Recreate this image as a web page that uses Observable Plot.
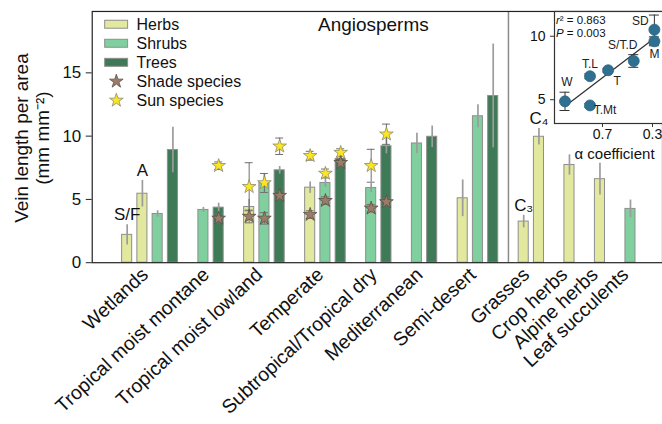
<!DOCTYPE html>
<html><head><meta charset="utf-8">
<script src="https://cdn.jsdelivr.net/npm/d3@7"></script>
<script src="https://cdn.jsdelivr.net/npm/@observablehq/plot@0.6"></script>
<style>
html,body{margin:0;padding:0;background:#fff;overflow:hidden;}
#wrap{position:relative;width:662px;height:424px;overflow:hidden;font-family:"Liberation Sans",Arial,sans-serif;}
#wrap svg{position:absolute;top:0;}
</style></head><body><div id="wrap"></div>
<script>
// ---------- data ----------
const categories = ["Wetlands","Tropical moist montane","Tropical moist lowland","Temperate","Subtropical/Tropical dry","Mediterranean","Semi-desert","Grasses","Crop herbs","Alpine herbs","Leaf succulents"];
const forms = ["Herbs","Shrubs","Trees"];

const barCategory = ["Wetlands","Wetlands","Wetlands","Wetlands","Tropical moist montane","Tropical moist montane","Tropical moist lowland","Tropical moist lowland","Tropical moist lowland","Temperate","Temperate","Temperate","Subtropical/Tropical dry","Subtropical/Tropical dry","Mediterranean","Mediterranean","Semi-desert","Semi-desert","Semi-desert","Grasses","Grasses","Crop herbs","Alpine herbs","Leaf succulents"];
const barForm = ["Herbs","Herbs","Shrubs","Trees","Shrubs","Trees","Herbs","Shrubs","Trees","Herbs","Shrubs","Trees","Shrubs","Trees","Shrubs","Trees","Herbs","Shrubs","Trees","Herbs","Herbs","Herbs","Herbs","Shrubs"];
const barNote = ["S/F","A","","","","","","","","","","","","","","","","","","C\u2083","C\u2084","","",""];
const barMean = [2.2,5.45,3.85,8.9,4.17,4.35,4.4,6.3,7.3,5.93,6.3,8.2,5.9,9.2,9.42,9.95,5.09,11.57,13.17,3.25,9.95,7.72,6.6,4.25];
const barErr  = [0.8,1.05,0.25,1.8,0.2,0.35,0.6,0.7,0.3,0.45,0.35,0.3,0.35,0.6,0.8,0.85,1.45,0.9,4.1,0.5,0.65,0.8,1.25,0.7];

const starCategory = ["Tropical moist montane","Tropical moist montane","Tropical moist lowland","Tropical moist lowland","Tropical moist lowland","Tropical moist lowland","Tropical moist lowland","Tropical moist lowland","Temperate","Temperate","Temperate","Temperate","Temperate","Temperate","Subtropical/Tropical dry","Subtropical/Tropical dry","Subtropical/Tropical dry","Subtropical/Tropical dry"];
const starForm = ["Trees","Trees","Herbs","Herbs","Shrubs","Shrubs","Trees","Trees","Herbs","Herbs","Shrubs","Shrubs","Trees","Trees","Shrubs","Shrubs","Trees","Trees"];
const starLight = ["Shade","Sun","Shade","Sun","Shade","Sun","Shade","Sun","Shade","Sun","Shade","Sun","Shade","Sun","Shade","Sun","Shade","Sun"];
const starMean = [3.5,7.66,3.65,6.0,3.5,6.3,5.3,9.2,3.8,8.45,4.9,7.05,7.9,8.7,4.3,7.66,4.8,10.15];
const starErr  = [0.35,0.3,0.5,1.9,0.45,0.75,0.3,0.65,0.3,0.35,0.3,0.35,0.3,0.3,0.3,1.3,0.3,0.8];

const siteLabel = ["W","T.Mt","T.L","T","S/T.D","SD","M"];
const siteAlpha = [1.0,0.8,0.8,0.655,0.45,0.285,0.285];
const siteVLA   = [4.87,4.55,6.85,7.32,8.05,10.52,9.6];
const siteErr   = [0.72,0.15,0.2,0.15,0.5,1.15,0.35];
const statR2 = "0.863", statP = "0.003";

const yTicks = [0,5,10,15];
const insetYTicks = [5,10];
const insetXTicks = [0.7,0.3];

// ---------- styles ----------
const formColor = {Herbs:"#e2e89d", Shrubs:"#80cf9f", Trees:"#3f7a57"};
const starFill = {Shade:"#9c7b68", Sun:"#fbe61f"};
const starStroke = {Shade:"#5a5048", Sun:"#8d8a6e"};
const FONT = "Liberation Sans, Arial, Helvetica, sans-serif";

// ---------- build tables ----------
const bars = barMean.map((m,i)=>({cat:barCategory[i], form:barForm[i], note:barNote[i], mean:m, err:barErr[i]}));
let s = 0;
categories.forEach((c,ci)=>{ if(ci>0) s++; bars.forEach(b=>{ if(b.cat===c){ b.slot=s; s++; } }); });
const catCenter = {};
categories.forEach(c=>{ const sl = bars.filter(b=>b.cat===c).map(b=>b.slot); catCenter[c] = d3.mean(sl); });
const dividerSlot = d3.min(bars.filter(b=>b.cat==="Grasses"), b=>b.slot) - 1;

const stars = starMean.map((m,i)=>{
  const b = bars.find(b=>b.cat===starCategory[i] && b.form===starForm[i]);
  return {slot:b.slot, light:starLight[i], mean:m, err:starErr[i]};
});
const sites = siteLabel.map((l,i)=>({label:l, alpha:siteAlpha[i], vla:siteVLA[i], err:siteErr[i]}));

const hw = 0.33, cap = 0.26;

// ---------- main chart ----------
const main = Plot.plot({
  width: 664, height: 424,
  marginLeft: 92, marginRight: 0, marginTop: 11, marginBottom: 161,
  x: {type:"linear", domain:[-2.29, 35.1], axis:null},
  y: {domain:[0, 19.85], axis:null},
  style: {fontFamily: FONT, background:"transparent", color:"#222"},
  marks: [
    Plot.ruleX([dividerSlot], {x: d=>d, stroke:"#8a8a8a", strokeWidth:1.5}),
    Plot.rect(bars, {x1: d=>d.slot-hw, x2: d=>d.slot+hw, y1: ()=>0, y2:"mean", fill: d=>formColor[d.form], stroke:"#8e8e8e", strokeWidth:1}),
    Plot.ruleX(bars, {x:"slot", y1: d=>d.mean-d.err, y2: d=>d.mean+d.err, stroke:"#9c9c9c", strokeWidth:1.7}),
    Plot.ruleX(stars, {x:"slot", y1: d=>d.mean-d.err, y2: d=>d.mean+d.err, stroke:"#6f6f6f", strokeWidth:1}),
    Plot.ruleY(stars, {y: d=>d.mean+d.err, x1: d=>d.slot-cap, x2: d=>d.slot+cap, stroke:"#6f6f6f", strokeWidth:1}),
    Plot.ruleY(stars, {y: d=>d.mean-d.err, x1: d=>d.slot-cap, x2: d=>d.slot+cap, stroke:"#6f6f6f", strokeWidth:1}),
    Plot.dot(stars.filter(d=>d.light==="Shade"), {x:"slot", y:"mean", symbol:"star", r:4.3, fill:starFill.Shade, stroke:starStroke.Shade, strokeWidth:0.8}),
    Plot.dot(stars.filter(d=>d.light==="Sun"), {x:"slot", y:"mean", symbol:"star", r:4.3, fill:starFill.Sun, stroke:starStroke.Sun, strokeWidth:0.8}),
    Plot.text(bars.filter(d=>d.note), {x:"slot", y: d=>d.mean+d.err, text:"note", dy:-10, fontSize:17, fill:"#111"}),
    Plot.text(categories, {x: c=>catCenter[c], y: ()=>0, text: c=>c, rotate:-43, textAnchor:"end", dx:-5, dy:9, fontSize:19.5, fill:"#111"}),
    Plot.text(["Angiosperms"], {frameAnchor:"top", dx:-4, dy:14, lineAnchor:"middle", fontSize:19, fill:"#111"}),
    Plot.text(["Vein length per area"], {frameAnchor:"left", textAnchor:"middle", rotate:-90, dx:-70, dy:1, fontSize:19, fill:"#111"}),
    Plot.text(["(mm mm\u207B\u00B2)"], {frameAnchor:"left", textAnchor:"middle", rotate:-90, dx:-49, dy:1, fontSize:19, fill:"#111"}),
    Plot.axisY({ticks: yTicks, tickSize:6, tickPadding:5, fontSize:17, label:null, stroke:"#222", color:"#111"}),
    Plot.frame({stroke:"#222", strokeWidth:1.2})
  ]
});
main.style.left = "0px";
document.getElementById("wrap").appendChild(main);

// legend (inside main svg)
const leg = d3.select(main).append("g").attr("font-family", FONT).attr("font-size", 16).attr("fill","#111").attr("text-anchor","start");
const legItems = [
  {kind:"rect", label:"Herbs", fill:formColor.Herbs},
  {kind:"rect", label:"Shrubs", fill:formColor.Shrubs},
  {kind:"rect", label:"Trees", fill:formColor.Trees},
  {kind:"star", label:"Shade species", fill:starFill.Shade, stroke:starStroke.Shade},
  {kind:"star", label:"Sun species", fill:starFill.Sun, stroke:starStroke.Sun}
];
legItems.forEach((it,i)=>{
  const cy = 24.3 + i*19.1;
  if(it.kind==="rect"){
    leg.append("rect").attr("x",105).attr("y",cy-4).attr("width",23).attr("height",8).attr("fill",it.fill).attr("stroke","#8e8e8e");
  } else {
    leg.append("path").attr("d", d3.symbol(d3.symbolStar, Math.PI*4.3*4.3)()).attr("transform",`translate(116.7,${cy})`).attr("fill",it.fill).attr("stroke",it.stroke).attr("stroke-width",0.8);
  }
  leg.append("text").attr("x",137).attr("y",cy).attr("dy","0.35em").attr("text-anchor","start").text(it.label);
});

// ---------- inset ----------
const labelOffset = {"W":[2,-19],"T.Mt":[15,5],"T.L":[0,-12],"T":[9,11],"S/T.D":[-11,-16],"SD":[-14,-8],"M":[0,13]};
const ic = 0.04;
const inset = Plot.plot({
  width: 154, height: 165,
  marginLeft: 44, marginRight: 0, marginTop: 11, marginBottom: 42,
  x: {domain:[0.204, 1.084], reverse:true, axis:null},
  y: {domain:[3.125, 11.95], axis:null},
  style: {fontFamily: FONT, background:"transparent", color:"#222"},
  marks: [
    Plot.frame({fill:"white", stroke:"#333", strokeWidth:1.2}),
    Plot.linearRegressionY(sites, {x:"alpha", y:"vla", stroke:"#333", strokeWidth:1.3, ci:0}),
    Plot.ruleX(sites, {x:"alpha", y1: d=>d.vla-d.err, y2: d=>d.vla+d.err, stroke:"#333", strokeWidth:1}),
    Plot.ruleY(sites, {y: d=>d.vla+d.err, x1: d=>d.alpha-ic, x2: d=>d.alpha+ic, stroke:"#333", strokeWidth:1}),
    Plot.ruleY(sites, {y: d=>d.vla-d.err, x1: d=>d.alpha-ic, x2: d=>d.alpha+ic, stroke:"#333", strokeWidth:1}),
    Plot.dot(sites, {x:"alpha", y:"vla", r:5.5, fill:"#2f6f90", stroke:"#2a6483", strokeWidth:0.8}),
    ...sites.map(d=>Plot.text([d], {x:"alpha", y:"vla", text:"label", dx:labelOffset[d.label][0], dy:labelOffset[d.label][1], fontSize:12, fill:"#222"})),
    Plot.text(["\u03B1 coefficient"], {frameAnchor:"bottom", dx:5, dy:31, lineAnchor:"middle", fontSize:15, fill:"#111"}),
    Plot.axisY({ticks: insetYTicks, tickSize:4, tickPadding:5, fontSize:14, label:null, stroke:"#333", color:"#111"}),
    Plot.axisX({ticks: insetXTicks, tickSize:4, tickPadding:2, fontSize:14, label:null, stroke:"#333", color:"#111", tickFormat: d=>d.toFixed(1)})
  ]
});
inset.style.left = "510px";
document.getElementById("wrap").appendChild(inset);

const st = d3.select(inset).append("g").attr("font-family", FONT).attr("font-size", 11.5).attr("fill","#111").attr("text-anchor","start");
const t1 = st.append("text").attr("x",46).attr("y",23.5);
t1.append("tspan").attr("font-style","italic").text("r");
t1.append("tspan").text("\u00B2 = " + statR2);
const t2 = st.append("text").attr("x",46).attr("y",36.6);
t2.append("tspan").attr("font-style","italic").text("P");
t2.append("tspan").text(" = " + statP);
</script>
</body></html>
